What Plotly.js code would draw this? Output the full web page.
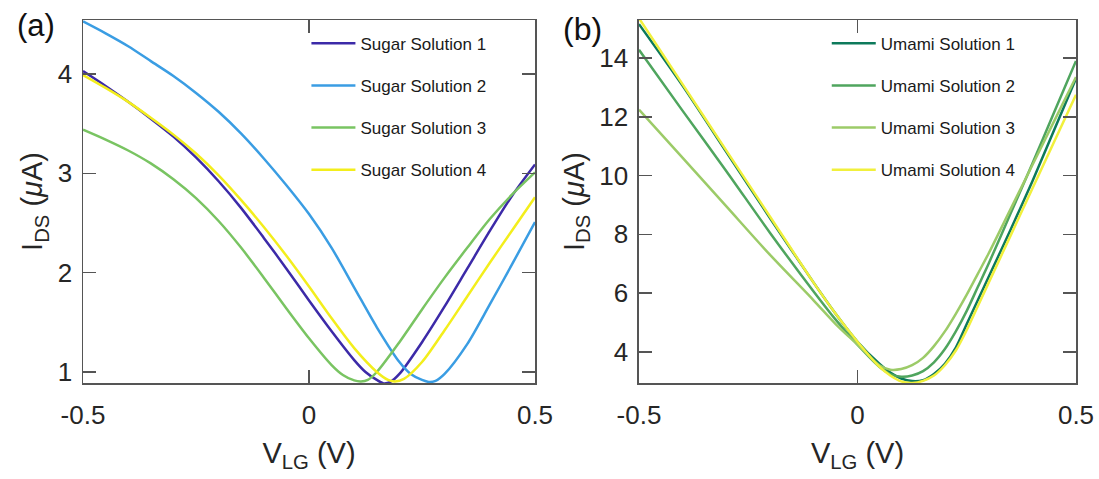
<!DOCTYPE html>
<html><head><meta charset="utf-8">
<script src="https://cdn.plot.ly/plotly-3.0.1.min.js"></script>
<style>html,body{margin:0;padding:0;background:#fff}</style>
</head><body><div id="chart" style="width:1099px;height:479px"></div>
<script>
// ---- data ----
const xTickVals = [-0.5, 0, 0.5];
const xTickText = ["-0.5", "0", "0.5"];
const sugarTickVals = [1, 2, 3, 4];
const umamiTickVals = [4, 6, 8, 10, 12, 14];

const sugarNames = ["Sugar Solution 1", "Sugar Solution 2", "Sugar Solution 3", "Sugar Solution 4"];
const sugar1V = [-0.5,-0.45,-0.4,-0.35,-0.3,-0.25,-0.2,-0.15,-0.1,-0.05,0,0.05,0.1,0.125,0.15,0.165,0.18,0.2,0.25,0.3,0.35,0.4,0.45,0.5];
const sugar1I = [4.03,3.88,3.72,3.55,3.37,3.16,2.92,2.65,2.35,2.04,1.72,1.41,1.12,1.0,0.92,0.885,0.9,0.98,1.3,1.66,2.04,2.42,2.78,3.09];
const sugar2V = [-0.5,-0.45,-0.4,-0.35,-0.3,-0.25,-0.2,-0.15,-0.1,-0.05,0,0.05,0.1,0.15,0.2,0.225,0.25,0.265,0.28,0.3,0.35,0.4,0.45,0.5];
const sugar2I = [4.53,4.41,4.28,4.13,3.98,3.81,3.62,3.40,3.15,2.88,2.59,2.25,1.85,1.45,1.10,0.98,0.92,0.90,0.91,0.98,1.28,1.68,2.09,2.51];
const sugar3V = [-0.5,-0.45,-0.4,-0.35,-0.3,-0.25,-0.2,-0.15,-0.1,-0.05,0,0.05,0.075,0.1,0.115,0.13,0.15,0.2,0.25,0.3,0.35,0.4,0.45,0.5];
const sugar3I = [3.44,3.34,3.23,3.10,2.94,2.75,2.52,2.25,1.95,1.64,1.34,1.07,0.97,0.915,0.905,0.92,1.0,1.3,1.63,1.95,2.25,2.54,2.79,3.01];
const sugar4V = [-0.5,-0.45,-0.4,-0.35,-0.3,-0.25,-0.2,-0.15,-0.1,-0.05,0,0.05,0.1,0.15,0.175,0.19,0.21,0.25,0.3,0.35,0.4,0.45,0.5];
const sugar4I = [3.99,3.86,3.72,3.56,3.39,3.20,2.98,2.73,2.46,2.17,1.86,1.54,1.24,1.0,0.92,0.905,0.93,1.1,1.42,1.76,2.1,2.43,2.76];

const umamiNames = ["Umami Solution 1", "Umami Solution 2", "Umami Solution 3", "Umami Solution 4"];
const umamiV  = [-0.5,-0.4,-0.3,-0.2,-0.1,-0.05,0,0.05,0.075,0.1,0.125,0.15,0.175,0.2,0.225,0.25,0.275,0.3,0.35,0.4,0.45,0.5];
const umami1I = [15.15,13.05,10.8,8.55,6.35,5.3,4.35,3.6,3.3,3.1,3.01,3.04,3.25,3.6,4.15,4.95,5.75,6.55,8.15,9.8,11.55,13.3];
const umami2I = [14.28,12.2,10.15,8.05,6.05,5.1,4.25,3.5,3.25,3.16,3.2,3.35,3.65,4.1,4.7,5.4,6.2,7.0,8.7,10.4,12.15,13.9];
const umami3I = [12.24,10.6,8.95,7.3,5.75,4.95,4.25,3.55,3.4,3.42,3.55,3.8,4.2,4.7,5.3,5.95,6.65,7.35,8.85,10.35,11.85,13.35];
const umami4I = [15.35,13.1,10.85,8.6,6.35,5.3,4.35,3.5,3.2,3.0,2.95,3.02,3.2,3.55,4.05,4.75,5.55,6.35,7.95,9.55,11.15,12.75];

const sugarColors = ["#3c2aa8", "#3a9de3", "#79c462", "#f3ee1c"];
const umamiColors = ["#0d7a5b", "#4fa55e", "#9ccb68", "#f1f03c"];

// ---- traces ----
const sugarV = [sugar1V, sugar2V, sugar3V, sugar4V];
const sugarI = [sugar1I, sugar2I, sugar3I, sugar4I];
const umamiI = [umami1I, umami2I, umami3I, umami4I];
const traces = [];
for (let k = 0; k < 4; k++) {
  traces.push({x: sugarV[k], y: sugarI[k], name: sugarNames[k], type: "scatter", mode: "lines",
    line: {color: sugarColors[k], width: 2.5, shape: "spline", smoothing: 0.8},
    xaxis: "x", yaxis: "y", legend: "legend", legendgroup: "s" + k});
}
for (let k = 0; k < 4; k++) {
  traces.push({x: umamiV, y: umamiI[k], name: umamiNames[k], type: "scatter", mode: "lines",
    line: {color: umamiColors[k], width: 2.5, shape: "spline", smoothing: 0.8},
    xaxis: "x2", yaxis: "y2", legend: "legend2", legendgroup: "u" + k});
}

const FONT = "Liberation Sans, Arial, sans-serif";
const axColor = "#555555";
const txtColor = "#262626";
function xax(domain, anchor) {
  return {domain: domain, anchor: anchor, range: [-0.5, 0.5], tickmode: "array",
    tickvals: xTickVals, ticktext: xTickText, ticks: "inside", ticklen: 13, tickwidth: 1.5,
    tickcolor: axColor, showline: true, linecolor: axColor, linewidth: 1.5, mirror: "ticks",
    showgrid: false, zeroline: false, ticklabelstandoff: 8,
    tickfont: {family: FONT, size: 26, color: txtColor},
    title: {text: "V<sub>LG</sub> (V)", font: {family: FONT, size: 29, color: txtColor}, standoff: 14}};
}
function yax(range, tickvals, anchor) {
  return {domain: [0, 1], anchor: anchor, range: range, tickmode: "array", tickvals: tickvals,
    ticks: "inside", ticklen: 13, tickwidth: 1.5, tickcolor: axColor, showline: true,
    linecolor: axColor, linewidth: 1.5, mirror: "ticks", showgrid: false, zeroline: false,
    ticklabelstandoff: 4,
    tickfont: {family: FONT, size: 26, color: txtColor},
    title: {text: "I<sub>DS</sub> (<i>μ</i>A)", font: {family: FONT, size: 29, color: txtColor}, standoff: 6}};
}
const legendBase = {font: {family: FONT, size: 17, color: "#1a1a1a"}, bgcolor: "rgba(0,0,0,0)",
  borderwidth: 0, traceorder: "grouped", tracegroupgap: 17, itemwidth: 44,
  xanchor: "left", yanchor: "top"};

const layout = {
  width: 1099, height: 479,
  margin: {l: 83, r: 23, t: 20, b: 96},
  paper_bgcolor: "#ffffff", plot_bgcolor: "#ffffff",
  showlegend: true,
  xaxis: xax([0, 0.4552], "y"),
  yaxis: yax([0.889, 4.544], sugarTickVals, "x"),
  xaxis2: xax([0.5599, 1], "y2"),
  yaxis2: yax([2.946, 15.29], umamiTickVals, "x2"),
  legend: Object.assign({}, legendBase, {x: 0.225, y: 0.984}),
  legend2: Object.assign({}, legendBase, {x: 0.749, y: 0.984}),
  annotations: [
    {text: "(a)", xref: "paper", yref: "paper", x: -0.047, y: 0.985, xanchor: "center", yanchor: "middle",
     showarrow: false, font: {family: FONT, size: 31, color: "#111"}},
    {text: "(b)", xref: "paper", yref: "paper", x: 0.503, y: 0.975, xanchor: "center", yanchor: "middle",
     showarrow: false, font: {family: FONT, size: 32, color: "#111"}}
  ]
};
Plotly.newPlot("chart", traces, layout, {staticPlot: true, displayModeBar: false});
</script>
</body></html>
